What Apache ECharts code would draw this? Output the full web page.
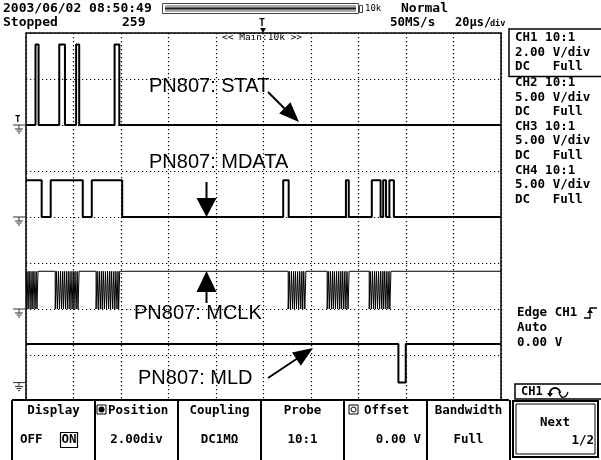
<!DOCTYPE html>
<html><head><meta charset="utf-8">
<script src="https://cdn.jsdelivr.net/npm/echarts@6/dist/echarts.min.js"></script>
<style>html,body{margin:0;padding:0;background:#fff}#c{width:601px;height:460px}</style>
</head><body><div id="c"></div>
<script>
// ---- data (time in µs, 20 µs/div, trigger at centre) ----
const timeTicks = [-100, -80, -60, -40, -20, 0, 20, 40, 60, 80, 100];
const channelNames = ['CH1', 'CH2', 'CH3', 'CH4'];
const signalNames = ['PN807: STAT', 'PN807: MDATA', 'PN807: MCLK', 'PN807: MLD'];
const voltsPerDiv = [2, 5, 5, 5];
const positionDiv = [2, 0, -2, -3.6];
const highVolts = [3.5, 4.0, 4.1, 4.2];
const lowVolts = [0, 0, 0, 0];

// STAT (CH1): idle low, edge times
const statEdges = [-96.0, -94.7, -86.0, -83.6, -78.9, -77.6, -62.7, -60.7];
// MDATA (CH2): starts high, edge times
const mdataEdges = [-93.4, -89.6, -76.1, -72.3, -59.5, 8.3, 10.6, 34.7, 35.9, 45.6, 49.3, 50.4, 51.6, 53.0, 54.9];
// MCLK (CH3): idle high, start times of low clock pulses
const mclkLowStarts = [
  -99.6, -98.8, -97.9, -97.1, -96.2, -95.4,
  -87.7, -86.8, -85.9, -85.0, -84.2, -83.3, -82.4, -81.5, -80.6, -79.8, -78.9, -78.1,
  -70.5, -69.6, -68.7, -67.9, -67.0, -66.1, -65.2, -64.4, -63.5, -62.6, -61.7, -61.0,
  10.4, 11.3, 12.2, 13.0, 13.9, 14.8, 15.7, 16.5, 17.4,
  26.8, 27.7, 28.6, 29.4, 30.3, 31.2, 32.1, 32.9, 33.8, 34.7, 35.6,
  44.5, 45.4, 46.3, 47.1, 48.0, 48.9, 49.8, 50.6, 51.5, 52.4, 53.2
];
const mclkLowWidth = 0.45;
// MLD (CH4): idle high, edge times
const mldEdges = [56.8, 59.9];

// ---- build traces ----
function toDiv(ch, v) { return positionDiv[ch] + v / voltsPerDiv[ch]; }
function edgeTrace(ch, edges, startHigh) {
  let hi = startHigh;
  const lv = () => toDiv(ch, hi ? highVolts[ch] : lowVolts[ch]);
  const pts = [[timeTicks[0], lv()]];
  edges.forEach(t => { pts.push([t, lv()]); hi = !hi; pts.push([t, lv()]); });
  pts.push([timeTicks[timeTicks.length - 1], lv()]);
  return pts;
}
function pulseTrace(ch, starts, width) {
  const H = toDiv(ch, highVolts[ch]), L = toDiv(ch, lowVolts[ch]);
  const pts = [[timeTicks[0], H]];
  starts.forEach(s => { pts.push([s, H], [s, L], [s + width, L], [s + width, H]); });
  pts.push([timeTicks[timeTicks.length - 1], H]);
  return pts;
}
const traces = [
  edgeTrace(0, statEdges, false),
  edgeTrace(1, mdataEdges, true),
  pulseTrace(2, mclkLowStarts, mclkLowWidth),
  edgeTrace(3, mldEdges, true)
];

// ---- decorations ----
const MONO = 'DejaVu Sans Mono';
const G = [];
function txt(x, y, s, size, opt) {
  opt = opt || {};
  G.push({ type: 'text', x: x, y: y, z: 200, silent: true,
    style: { text: s, fill: '#000', font: (opt.bold === false ? '' : 'bold ') + size + 'px ' + (opt.family || MONO),
      textAlign: opt.align || 'left', align: opt.align || 'left',
      textVerticalAlign: 'middle', verticalAlign: 'middle' } });
}
function line(x1, y1, x2, y2, w, c) {
  G.push({ type: 'line', z: 200, silent: true, shape: { x1, y1, x2, y2 }, style: { stroke: c || '#000', lineWidth: w || 1 } });
}
function rect(x, y, w, h, stroke, lw, fill) {
  G.push({ type: 'rect', z: 200, silent: true, shape: { x, y, width: w, height: h },
    style: { stroke: stroke || null, lineWidth: lw || 1, fill: fill || 'none' } });
}
function poly(points, fill) {
  G.push({ type: 'polygon', z: 200, silent: true, shape: { points }, style: { fill: fill || '#000' } });
}

// header
txt(3, 9, '2003/06/02 08:50:49', 13);
txt(3, 23, 'Stopped', 13);
txt(122, 23, '259', 13);
rect(162.5, 3.5, 196, 10, '#444', 1);
rect(165, 5, 191, 7, null, 1, '#8c8c8c');
line(165, 8.5, 356, 8.5, 1.5, '#222');
line(165, 6, 356, 6, 0.8, '#ddd');
line(165, 11, 356, 11, 0.8, '#ddd');
rect(359.5, 5.5, 3, 7, '#444', 1);
txt(365, 9, '10k', 9, { bold: false });
txt(401, 9, 'Normal', 13);
txt(390, 23, '50MS/s', 12.5);
txt(455, 23, '20µs/', 12);
txt(490, 24, 'div', 8.5);
txt(259, 23, 'T', 10);
poly([[260, 28], [266, 28], [263, 33]]);
txt(222, 38, '<< Main:10k >>', 9.5, { bold: false });

// right panel
rect(509, 29, 100, 47.5, '#000', 1.5);
const rightLines = ['CH1 10:1', '2.00 V/div', 'DC   Full', 'CH2 10:1', '5.00 V/div', 'DC   Full',
  'CH3 10:1', '5.00 V/div', 'DC   Full', 'CH4 10:1', '5.00 V/div', 'DC   Full'];
rightLines.forEach((s, i) => txt(515, 38 + i * 14.6 + (i >= 3 ? 1 : 0), s, 12.5));
txt(517, 313, 'Edge CH1', 12.5);
txt(517, 328, 'Auto', 12.5);
txt(517, 343, '0.00 V', 12.5);
G.push({ type: 'polyline', z: 200, silent: true, shape: { points: [[584, 318], [590, 318], [590, 308], [597, 308]] }, style: { stroke: '#000', lineWidth: 1.3, fill: 'none' } });
poly([[587, 313], [593, 313], [590, 309]]);
rect(515, 384, 90, 15, '#000', 1.5);
txt(521, 391.5, 'CH1', 12);
G.push({ type: 'arc', z: 200, silent: true, shape: { cx: 555, cy: 393, r: 5, startAngle: Math.PI, endAngle: 0, clockwise: true }, style: { stroke: '#000', lineWidth: 2, fill: 'none' } });
poly([[547, 393], [553, 393], [550, 397]]);
G.push({ type: 'bezierCurve', z: 200, silent: true, shape: { x1: 559, y1: 392, x2: 568, y2: 392, cpx1: 561, cpy1: 400, cpx2: 566, cpy2: 398 }, style: { stroke: '#000', lineWidth: 1.2, fill: 'none' } });

// annotations
txt(149, 86, signalNames[0], 20, { bold: false, family: 'Liberation Sans' });
txt(149, 162, signalNames[1], 20, { bold: false, family: 'Liberation Sans' });
txt(134, 313, signalNames[2], 20, { bold: false, family: 'Liberation Sans' });
txt(138, 378, signalNames[3], 20, { bold: false, family: 'Liberation Sans' });
line(268, 92, 290, 114, 2);
poly([[299, 122], [279.2, 113.6], [290.5, 102.2]]);
line(206.5, 182, 206.5, 200, 2);
poly([[196.5, 198], [216.5, 198], [206.5, 217]]);
line(206.5, 288, 206.5, 303, 2);
poly([[196.5, 292], [216.5, 292], [206.5, 271]]);
line(268, 378, 298, 358, 2);
poly([[313, 348], [300.8, 365.8], [292, 352.4]]);

// bottom menu
rect(0, 400, 509, 60, null, 1, '#fff');
line(12, 400, 509, 400, 2);
const menuX = [12, 95, 178, 261, 344, 427, 510];
menuX.forEach(x => line(x, 400, x, 460, 2));
txt(53.5, 411, 'Display', 12.5, { align: 'center' });
rect(97, 405, 9, 9, '#000', 1);
G.push({ type: 'circle', z: 200, silent: true, shape: { cx: 101.5, cy: 409.5, r: 3 }, style: { fill: '#000' } });
txt(108, 411, 'Position', 12.5);
txt(219.5, 411, 'Coupling', 12.5, { align: 'center' });
txt(302.5, 411, 'Probe', 12.5, { align: 'center' });
rect(349, 405, 9, 9, '#000', 1);
G.push({ type: 'circle', z: 200, silent: true, shape: { cx: 353.5, cy: 409.5, r: 2.5 }, style: { stroke: '#000', fill: 'none' } });
txt(364, 411, 'Offset', 12.5);
txt(468.5, 411, 'Bandwidth', 12.5, { align: 'center' });
txt(20, 440, 'OFF', 12.5);
txt(69, 440, 'ON', 12.5, { align: 'center' });
rect(60.5, 432.5, 17, 15, '#000', 1.2);
txt(136.5, 440, '2.00div', 12.5, { align: 'center' });
txt(219.5, 440, 'DC1MΩ', 12.5, { align: 'center' });
txt(302.5, 440, '10:1', 12.5, { align: 'center' });
txt(421, 440, '0.00 V', 12.5, { align: 'right' });
txt(468.5, 440, 'Full', 12.5, { align: 'center' });
rect(513, 401, 85, 56, '#000', 2, '#fff');
rect(516, 404, 79, 50, '#000', 1);
txt(555, 423, 'Next', 12.5, { align: 'center' });
txt(594, 441, '1/2', 12.5, { align: 'right' });

const chart = echarts.init(document.getElementById('c'), null, { renderer: 'canvas' });
const option = {
  animation: false,
  backgroundColor: '#fff',
  grid: { left: 26, top: 33, right: 100, bottom: 59, show: true, borderColor: '#000', borderWidth: 1.5, backgroundColor: 'transparent' },
  xAxis: { type: 'value', min: timeTicks[0], max: timeTicks[timeTicks.length - 1], interval: 20,
    axisLine: { show: false }, axisTick: { show: false }, axisLabel: { show: false },
    splitLine: { show: true, lineStyle: { color: '#000', width: 1.2, type: [1.2, 2.8] } } },
  yAxis: { type: 'value', min: -4, max: 4, interval: 1,
    axisLine: { show: false }, axisTick: { show: false }, axisLabel: { show: false },
    splitLine: { show: true, lineStyle: { color: '#000', width: 1.2, type: [1.2, 2.8] } } },
  series: traces.map((d, i) => ({
    type: 'line', name: channelNames[i], data: d, showSymbol: false, symbol: 'none', clip: true,
    lineStyle: { color: '#000', width: i === 2 ? 1 : 2 }, z: 5
  })),
  graphic: { elements: G }
};
chart.setOption(option);
// ground markers at each channel's 0 V level via the axis scale
const extra = [];
for (let ch = 0; ch < 4; ch++) {
  const y = chart.convertToPixel({ yAxisIndex: 0 }, toDiv(ch, 0));
  const L = (x1, y1, x2, y2) => extra.push({ type: 'line', z: 200, silent: true, shape: { x1, y1, x2, y2 }, style: { stroke: '#333', lineWidth: 1 } });
  L(13, y, 26, y); L(19, y, 19, y + 4); L(15, y + 4, 23, y + 4); L(16.5, y + 6, 21.5, y + 6); L(18, y + 8, 20, y + 8);
  if (ch === 0) extra.push({ type: 'text', x: 15, y: y - 5, z: 200, style: { text: 'T', font: 'bold 9px ' + MONO, fill: '#000', verticalAlign: 'middle', textVerticalAlign: 'middle' } });
}
chart.setOption({ graphic: { elements: G.concat(extra) } });
</script></body></html>
